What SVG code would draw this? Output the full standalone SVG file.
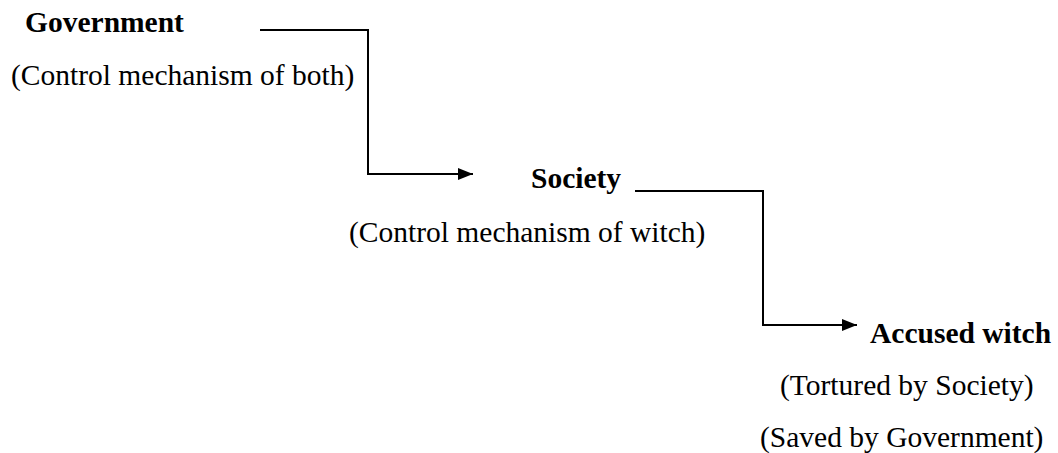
<svg xmlns="http://www.w3.org/2000/svg" width="1058" height="453" viewBox="0 0 1058 453">
<style>
.t{font-family:"Liberation Serif","Times New Roman",serif;font-size:29.5px;fill:#000}
.b{font-weight:bold}
.c{fill:none;stroke:#000;stroke-width:2}
</style>
<defs>
<marker id="ah" markerWidth="15" markerHeight="12" refX="15" refY="6" orient="auto" markerUnits="userSpaceOnUse">
<path d="M0,0 L15,6 L0,12 Z" fill="#000"/>
</marker>
</defs>
<rect width="1058" height="453" fill="#fff"/>
<g id="government">
<text class="t b" x="25" y="32">Government</text>
<text class="t" x="11" y="85">(Control mechanism of both)</text>
</g>
<g id="society">
<text class="t b" x="531" y="188">Society</text>
<text class="t" x="349" y="242">(Control mechanism of witch)</text>
</g>
<g id="accused">
<text class="t b" x="870" y="343">Accused witch</text>
<text class="t" x="780" y="395">(Tortured by Society)</text>
<text class="t" x="760" y="447">(Saved by Government)</text>
</g>
<g id="connectors">
<path class="c" d="M260,30 H368 V174 H473" marker-end="url(#ah)"/>
<path class="c" d="M635,191 H763 V325 H857" marker-end="url(#ah)"/>
</g>
</svg>
